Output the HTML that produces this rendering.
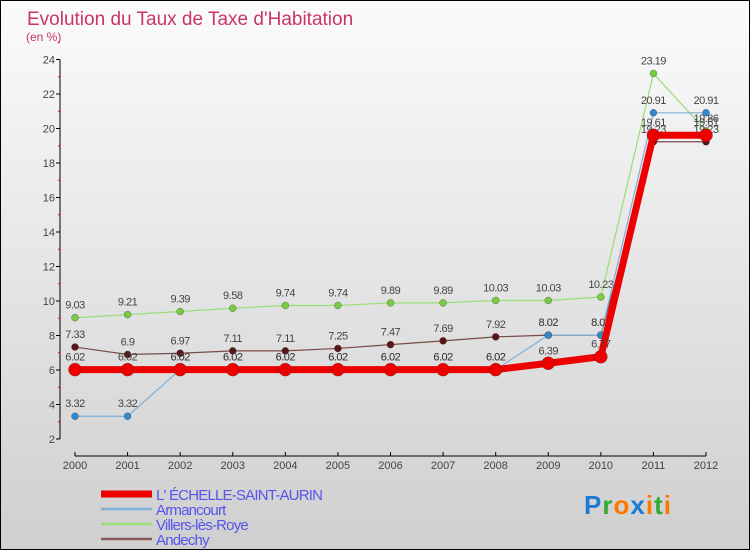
<!DOCTYPE html>
<html><head><meta charset="utf-8"><style>
html,body{margin:0;padding:0}
body{width:750px;height:550px;overflow:hidden;font-family:"Liberation Sans",sans-serif}
#wrap{position:relative;width:748px;height:548px;border:1px solid #000;background:linear-gradient(#fbfbfb,#cfcfcf)}
</style></head><body>
<div id="wrap">
<svg id="chart" width="748" height="548" style="position:absolute;left:0;top:0"></svg>
</div>
<script>
const years=[2000,2001,2002,2003,2004,2005,2006,2007,2008,2009,2010,2011,2012];
const yTicks=[2,4,6,8,10,12,14,16,18,20,22,24];
const echelle=[6.02,6.02,6.02,6.02,6.02,6.02,6.02,6.02,6.02,6.39,6.77,19.61,19.61];
const armancourt=[3.32,3.32,6.02,6.02,6.02,6.02,6.02,6.02,6.02,8.02,8.02,20.91,20.91];
const villers=[9.03,9.21,9.39,9.58,9.74,9.74,9.89,9.89,10.03,10.03,10.23,23.19,19.86];
const andechy=[7.33,6.9,6.97,7.11,7.11,7.25,7.47,7.69,7.92,8.02,8.02,19.23,19.23];
const NS="http://www.w3.org/2000/svg";
const svg=document.getElementById('chart');
const X=i=>74+i*(631/12);
const Y=v=>369-(v-6)*17.25;
function el(t,a,p){const e=document.createElementNS(NS,t);for(const k in a)e.setAttribute(k,a[k]);(p||svg).appendChild(e);return e;}
const title=el('text',{x:26,y:24,fill:'#c8356b','font-size':19});title.textContent="Evolution du Taux de Taxe d'Habitation";


const sub=el('text',{x:25,y:40,fill:'#c8356b','font-size':12});sub.textContent="(en %)";


// axes
const ya=el('line',{x1:59,y1:Y(24),x2:59,y2:Y(2),stroke:'#000'});


yTicks.forEach(v=>{el('line',{x1:55,x2:59,y1:Y(v),y2:Y(v),stroke:'#000'});
 el('line',{x1:57,x2:59,y1:Y(v+1),y2:Y(v+1),stroke:'#e00'});
 const t=el('text',{x:54,y:Y(v)+4,'text-anchor':'end','font-size':11,fill:'#444'});t.textContent=v;
 
 });
const xa=el('line',{x1:X(0),y1:455,x2:X(12),y2:455,stroke:'#000'});


years.forEach((y,i)=>{el('line',{x1:X(i),x2:X(i),y1:451,y2:455,stroke:'#000'});
 const t=el('text',{x:X(i),y:468,'text-anchor':'middle','font-size':11,fill:'#444'});t.textContent=y;
 
 });
function series(data,color,dot,w,r,name){
 const g=el('g',{});
 
 
 el('polyline',{points:data.map((v,i)=>X(i)+','+Y(v)).join(' '),fill:'none',stroke:color,'stroke-width':w},g);
 data.forEach((v,i)=>{const c=el('circle',{cx:X(i),cy:Y(v),r:r,fill:dot,stroke:'#333','stroke-width':0.3},g);
  
  
  const t=el('text',{x:X(i),y:Y(v)-9,'text-anchor':'middle','font-size':11,fill:'#444','letter-spacing':'-0.5'},g);t.textContent=v;});
}
series(villers,'#99dd77','#77cc44',1.2,3.5,'series-villers');
series(andechy,'#7a4a4a','#5a1515',1.2,3.5,'series-andechy');
series(armancourt,'#7fb0d8','#3388cc',1.2,3.5,'series-armancourt');
series(echelle,'#ee0000','#ee0000',7,6.5,'series-echelle');
// legend
const leg=[['L\' ÉCHELLE-SAINT-AURIN','#ee0000',7],['Armancourt','#7fb0d8',2.5],['Villers-lès-Royle','#99dd77',2.5],['Andechy','#8a5a5a',2.5]];
leg[2][0]='Villers-lès-Roye';
leg.forEach((l,i)=>{const y=493+i*15;
 const g=el('g',{});
 
 
 el('line',{x1:100,x2:151,y1:y,y2:y,stroke:l[1],'stroke-width':l[2]},g);
 const t=el('text',{x:155,y:y+6,'font-size':15,fill:'#5555ee','letter-spacing':'-0.8'},g);t.textContent=l[0];});
const logo=el('text',{x:583,y:513,'font-size':26,'font-weight':'bold','letter-spacing':'1'});


[['P','#1a7ad4'],['r','#33aa33'],['o','#ff7700'],['x','#1a7ad4'],['i','#ff7700'],['t','#33aa33'],['i','#ff7700']].forEach(c=>{const s=el('tspan',{fill:c[1]},logo);s.textContent=c[0];});
</script>
</body></html>
